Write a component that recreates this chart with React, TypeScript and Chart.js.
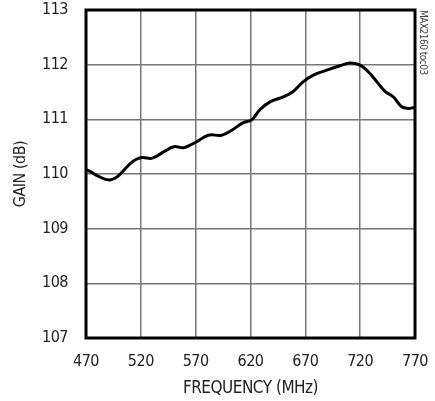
import React, { useEffect, useRef } from 'react';
import { Chart, registerables } from 'chart.js';

Chart.register(...registerables);

const frequencyMHz = [
  470, 474.3, 481, 491, 498.5, 505, 510.8, 516, 521.3, 530.5, 541.1, 550.2, 558.7, 565, 571,
  581.5, 593.7, 602.9, 613.4, 621.1, 628.7, 637.8, 649.9, 659, 668.2, 677.3, 689.5,
  701.6, 710.7, 719.9, 727.4, 735.1, 742.7, 750.2, 757.9, 763.9, 767.9, 770,
];
const gainDb = [
  110.08, 110.04, 109.96, 109.89, 109.95, 110.08, 110.2, 110.27, 110.3, 110.29, 110.41, 110.5,
  110.48, 110.53, 110.59, 110.71, 110.71, 110.8, 110.94, 110.99, 111.18, 111.32, 111.41, 111.51,
  111.69, 111.81, 111.9, 111.98, 112.03, 111.99, 111.87, 111.69, 111.51, 111.41, 111.23, 111.2,
  111.21, 111.22,
];
const xTickValues = [470, 520, 570, 620, 670, 720, 770];
const yTickValues = [107, 108, 109, 110, 111, 112, 113];
const xTitle = 'FREQUENCY (MHz)';
const yTitle = 'GAIN (dB)';
const sideNote = 'MAX2160 toc03';

const FONT = "'DejaVu Sans Condensed', 'Liberation Sans Narrow', sans-serif";

export default function App() {
  const canvasRef = useRef<HTMLCanvasElement | null>(null);

  useEffect(() => {
    document.body.style.margin = '0';
    const canvas = canvasRef.current;
    if (!canvas) return;

    const zeroPad = (scale: any) => {
      scale.paddingTop = 0;
      scale.paddingBottom = 0;
      scale.paddingLeft = 0;
      scale.paddingRight = 0;
    };

    const framePlugin = {
      id: 'frameAndNote',
      beforeDraw(chart: any) {
        (chart.ctx as any).letterSpacing = '-0.5px';
      },
      afterDraw(chart: any) {
        const { ctx, chartArea } = chart;
        ctx.save();
        ctx.strokeStyle = '#000';
        ctx.lineWidth = 3;
        ctx.strokeRect(
          chartArea.left,
          chartArea.top,
          chartArea.right - chartArea.left,
          chartArea.bottom - chartArea.top
        );
        ctx.translate(chartArea.right + 8, chartArea.top);
        ctx.rotate(Math.PI / 2);
        ctx.fillStyle = '#444';
        ctx.font = `10px ${FONT}`;
        ctx.textAlign = 'left';
        ctx.textBaseline = 'middle';
        ctx.fillText(sideNote, 0, 0);
        ctx.restore();
      },
    };

    const chart = new Chart(canvas, {
      type: 'line',
      data: {
        datasets: [
          {
            data: frequencyMHz.map((f, i) => ({ x: f, y: gainDb[i] })),
            borderColor: '#000',
            borderWidth: 3,
            pointRadius: 0,
            tension: 0.4,
            fill: false,
          },
        ],
      },
      options: {
        responsive: false,
        animation: false,
        layout: { padding: { left: 0, right: 20, top: 10, bottom: 0 } },
        plugins: { legend: { display: false }, tooltip: { enabled: false } },
        scales: {
          x: {
            type: 'linear',
            min: 470,
            max: 770,
            afterBuildTicks: (scale: any) => {
              scale.ticks = xTickValues.map((v) => ({ value: v }));
            },
            afterFit: (scale: any) => {
              scale.height = 63;
              zeroPad(scale);
            },
            border: { display: false },
            grid: { color: '#777', lineWidth: 1.5, drawTicks: false },
            ticks: {
              color: '#222',
              padding: 14,
              font: { family: FONT, size: 16 },
              maxRotation: 0,
            },
            title: {
              display: true,
              text: xTitle,
              color: '#222',
              font: { family: FONT, size: 17, lineHeight: 1.2 },
              padding: { top: 0, bottom: 2 },
            },
          },
          y: {
            type: 'linear',
            min: 107,
            max: 113,
            afterBuildTicks: (scale: any) => {
              scale.ticks = yTickValues.map((v) => ({ value: v }));
            },
            afterFit: (scale: any) => {
              scale.width = 86;
              zeroPad(scale);
            },
            border: { display: false },
            grid: { color: '#777', lineWidth: 1.5, drawTicks: false },
            ticks: {
              color: '#222',
              padding: 18,
              font: { family: FONT, size: 16 },
            },
            title: {
              display: true,
              text: yTitle,
              color: '#222',
              font: { family: FONT, size: 16, lineHeight: 1.2 },
              padding: { top: 11, bottom: 0 },
            },
          },
        },
      },
      plugins: [framePlugin],
    });

    return () => chart.destroy();
  }, []);

  return (
    <div style={{ position: 'absolute', left: 0, top: 0, width: 435, height: 401 }}>
      <canvas ref={canvasRef} width={435} height={401} />
    </div>
  );
}
